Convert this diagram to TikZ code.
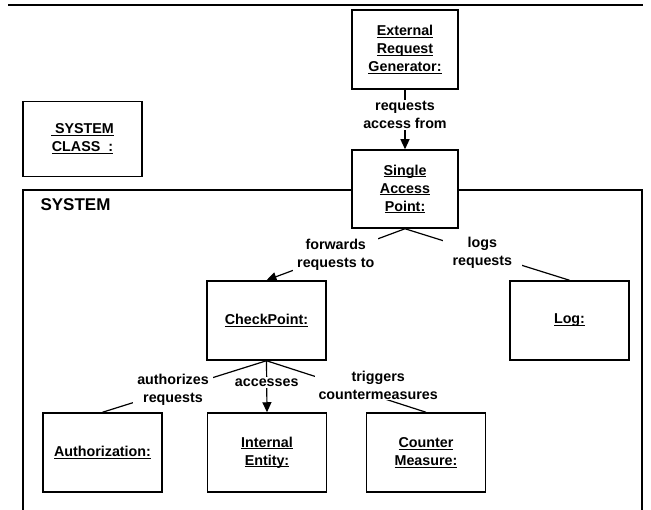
\documentclass[tikz,border=0pt]{standalone}
\usepackage{fontspec}
\setmainfont{Liberation Sans}
\usetikzlibrary{arrows.meta}
\newcommand\ulx[1]{\setbox0=\hbox{#1}\leavevmode\rlap{\copy0}\rule[-2.2pt]{\wd0}{1pt}}
\begin{document}
\begin{tikzpicture}[x=1pt,y=-1pt,
  obj/.style={draw, line width=1.5pt, fill=white, align=center, font=\fontsize{14.3}{18}\selectfont\bfseries, inner sep=0pt, minimum width=119pt, minimum height=79pt},
  lbl/.style={fill=white, align=center, font=\fontsize{14.3}{18}\selectfont\bfseries, inner ysep=1.5pt, inner xsep=4pt},
  conn/.style={line width=1.2pt},
  arr/.style={conn, -{Triangle[length=10pt,width=9pt]}}]
\useasboundingbox (0,0) rectangle (651,510);
\fill[white] (0,0) rectangle (651,510);
\draw[line width=2.5pt] (8,5) -- (643,5);
\draw[line width=2pt] (23,510) -- (23,190) -- (642,190) -- (642,510);
\node[anchor=west, font=\fontsize{17}{20}\selectfont\bfseries] (syslbl) at (37,205) {SYSTEM};
\node[obj, minimum width=119pt, minimum height=75pt] (sc) at (82.5,139) {\ulx{\ SYSTEM}\\\ulx{CLASS\ \ :}};
\node[obj, minimum width=106pt, minimum height=79pt] (erg) at (405,49.5) {\ulx{External}\\\ulx{Request}\\\ulx{Generator:}};
\node[obj, minimum width=106pt, minimum height=78pt] (sap) at (405,189) {\ulx{Single}\\\ulx{Access}\\\ulx{Point:}};
\node[obj] (cp) at (266.5,320.5) {\ulx{CheckPoint:}};
\node[obj] (log) at (569.5,320.5) {\ulx{Log:}};
\node[obj] (auth) at (102.5,452.5) {\ulx{Authorization:}};
\node[obj] (ie) at (267,452.5) {\ulx{Internal}\\\ulx{Entity:}};
\node[obj] (cm) at (426,452.5) {\ulx{Counter}\\\ulx{Measure:}};
\draw[arr] (erg.south) -- node[lbl, pos=0.42] {requests\\access from} (sap.north);
\draw[arr] (sap.south) -- node[lbl, pos=0.5] {forwards\\requests to} (cp.north);
\draw[conn] (sap.south) -- node[lbl, pos=0.47, inner xsep=10pt] {logs\\requests} (log.north);
\draw[conn] (cp.south) -- node[lbl, pos=0.57] {authorizes\\requests} (auth.north);
\draw[arr] (cp.south) -- node[lbl, pos=0.42] {accesses} (ie.north);
\draw[conn] (cp.south) -- node[lbl, pos=0.70, yshift=11pt, inner ysep=0pt] {triggers\\countermeasures} (cm.north);
\end{tikzpicture}
\end{document}
